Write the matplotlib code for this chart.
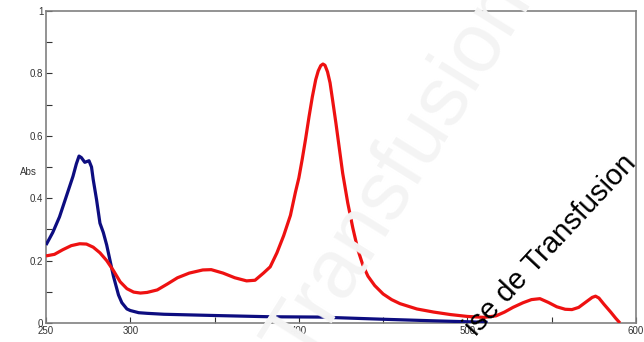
import matplotlib
matplotlib.use("Agg")
import matplotlib.pyplot as plt
from matplotlib.ticker import MultipleLocator

plt.rcParams['font.family'] = ['Liberation Sans', 'DejaVu Sans']

# Blue spectrum
blue_x = [250, 254, 258, 262, 266, 268, 269.6, 271, 273, 275.5, 277, 278, 280, 282, 284,
          286, 288, 290, 291.5, 293, 295, 298, 300, 305, 310, 320, 335, 350, 383, 412,
          450, 480, 500, 512]
blue_y = [0.25, 0.29, 0.34, 0.405, 0.47, 0.51, 0.535, 0.53, 0.515, 0.52, 0.5, 0.46, 0.395,
          0.32, 0.29, 0.25, 0.2, 0.15, 0.12, 0.09, 0.065, 0.045, 0.04, 0.033, 0.031, 0.028,
          0.026, 0.024, 0.02, 0.019, 0.012, 0.007, 0.004, 0.002]

# Red spectrum
red_x = [250, 255, 260, 265, 270, 274, 278, 282, 286, 290, 294, 298, 302, 306, 310, 316,
         322, 328, 335, 343, 348, 355, 362, 369, 374, 379, 383, 387, 391, 395, 398, 400,
         402, 404, 406, 408, 410, 411.5, 413, 414.3, 415.5, 417, 418.5, 420, 422, 424, 426,
         429, 432, 435, 438, 441, 445, 450, 455, 460, 470, 480, 490, 500, 510, 517, 522,
         527, 533, 538, 543, 548, 553, 558, 562, 566, 570, 574, 576, 578, 581, 585, 588,
         590.5]
red_y = [0.215, 0.22, 0.235, 0.248, 0.254, 0.253, 0.243, 0.225, 0.2, 0.168, 0.132, 0.11,
         0.099, 0.096, 0.098, 0.106, 0.125, 0.145, 0.16, 0.17, 0.171, 0.16, 0.145, 0.135,
         0.137, 0.16, 0.18, 0.225, 0.28, 0.345, 0.42, 0.465, 0.525, 0.59, 0.66, 0.725, 0.78,
         0.808, 0.825, 0.83, 0.826, 0.805, 0.77, 0.715, 0.64, 0.56, 0.48, 0.385, 0.305,
         0.235, 0.185, 0.15, 0.12, 0.093, 0.075, 0.062, 0.045, 0.035, 0.027, 0.021, 0.018,
         0.023, 0.035, 0.05, 0.065, 0.075, 0.078, 0.066, 0.052, 0.044, 0.043, 0.05, 0.066,
         0.082, 0.086, 0.08, 0.06, 0.035, 0.015, 0.0]

x_ticks = [250, 300, 400, 500, 600]
x_ticklabels = ['250', '300', '400', '500', '600']
y_ticks = [0, 0.2, 0.4, 0.6, 0.8, 1]
y_ticklabels = ['0', '0.2', '0.4', '0.6', '0.8', '1']

fig = plt.figure(figsize=(6.44, 3.42), dpi=100)
ax = fig.add_axes([46/644, 19/342, 590/644, 312/342])

# faint background watermark
fig.text(0.62, 0.50, 'Transfusion', fontsize=60, color='#f4f4f4', rotation=58,
         ha='center', va='center', zorder=0)
ax.set_facecolor('none')

ax.plot(blue_x, blue_y, color='#0d0d80', lw=2.3, solid_capstyle='butt',
        solid_joinstyle='round', zorder=3)
ax.plot(red_x, red_y, color='#ee1111', lw=2.3, solid_capstyle='butt',
        solid_joinstyle='round', zorder=3)

ax.set_xlim(250, 600)
ax.set_ylim(0, 1)
ax.set_xticks(x_ticks)
ax.set_xticklabels(x_ticklabels)
ax.set_yticks(y_ticks)
ax.set_yticklabels(y_ticklabels)
ax.xaxis.set_minor_locator(MultipleLocator(50))
ax.yaxis.set_minor_locator(MultipleLocator(0.1))
ax.tick_params(which='both', direction='in', labelsize=7, colors='#333333', pad=2)
ax.tick_params(which='major', length=4, width=0.8)
ax.tick_params(which='minor', length=4, width=0.8)
for s in ax.spines.values():
    s.set_color('#808080')
    s.set_linewidth(1.2)

fig.text(20/644, 1 - 172/342, 'Abs', fontsize=7, ha='left', va='center', color='#333333')

# black overlay watermark text
fig.text(480/644, 1 - 341/342, 'ise de Transfusion', fontsize=21, color='black',
         rotation=47, ha='left', va='bottom', rotation_mode='anchor', zorder=10)

fig.savefig('out.png', dpi=100)
